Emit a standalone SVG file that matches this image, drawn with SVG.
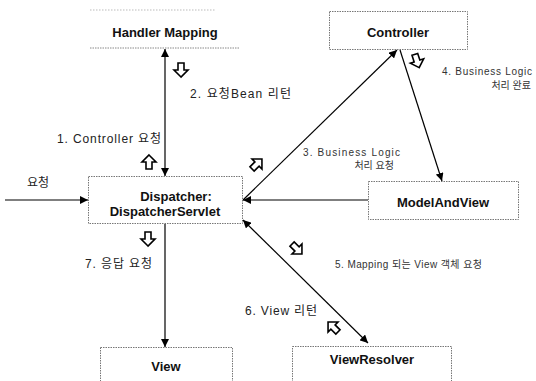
<svg xmlns="http://www.w3.org/2000/svg" width="536" height="381" viewBox="0 0 536 381">
<style>
.box{fill:#fff;stroke:#777;stroke-width:1;stroke-dasharray:1.5 1}
.faint{stroke:#bbb;stroke-width:1;stroke-dasharray:1.5 1.5}
.node{font-family:"Liberation Sans","Noto Sans CJK KR",sans-serif;font-weight:bold;font-size:13px;fill:#111;text-anchor:middle}
.lbl{font-family:"Liberation Sans","Noto Sans CJK KR",sans-serif;font-size:12px;fill:#222}
.sm{font-family:"Liberation Sans","Noto Sans CJK KR",sans-serif;font-size:10px;fill:#333}
.ln{stroke:#000;stroke-width:1.2;fill:none}
.ha{fill:#fff;stroke:#000;stroke-width:1.6;stroke-linejoin:miter}
</style>
<defs>
<marker id="ah" viewBox="0 0 10 10" refX="10" refY="5" markerWidth="8" markerHeight="8" markerUnits="userSpaceOnUse" orient="auto-start-reverse">
<path d="M0,0 L10,5 L0,10 Z" fill="#000"/>
</marker>
<path id="hol" class="ha" d="M0,-7 L7,0 L3,0 L3,7 L-3,7 L-3,0 L-7,0 Z"/>
</defs>

<g id="handler-mapping">
<line class="faint" x1="90" y1="10" x2="215" y2="10"/>
<line x1="90" y1="48" x2="240" y2="48" stroke="#888" stroke-width="1" stroke-dasharray="1.5 1"/>
<text class="node" x="165" y="37">Handler Mapping</text>
</g>

<g id="controller">
<rect class="box" x="329.5" y="11.5" width="138" height="38"/>
<text class="node" x="398" y="37">Controller</text>
</g>

<g id="dispatcher">
<rect class="box" x="88.5" y="176.5" width="154" height="47"/>
<text class="node" x="176" y="201" font-size="12.5">Dispatcher:</text>
<text class="node" x="165" y="216" font-size="12.5">DispatcherServlet</text>
</g>

<g id="modelandview">
<rect class="box" x="368.5" y="181.5" width="150" height="38"/>
<text class="node" x="443" y="207" font-size="12.5">ModelAndView</text>
</g>

<g id="view">
<rect class="box" x="100.5" y="347.5" width="132" height="40"/>
<text class="node" x="166" y="371">View</text>
</g>

<g id="viewresolver">
<rect class="box" x="292.5" y="346.5" width="159" height="40"/>
<text class="node" x="372" y="364">ViewResolver</text>
</g>

<g id="connectors">
<line class="ln" x1="165" y1="49" x2="165" y2="176" marker-start="url(#ah)" marker-end="url(#ah)"/>
<line class="ln" x1="5" y1="200" x2="88" y2="200" marker-end="url(#ah)"/>
<line class="ln" x1="243" y1="200" x2="397" y2="50" marker-end="url(#ah)"/>
<line class="ln" x1="400" y1="50" x2="442" y2="181" marker-end="url(#ah)"/>
<line class="ln" x1="368" y1="200" x2="243" y2="200" marker-end="url(#ah)"/>
<line class="ln" x1="243" y1="220" x2="368" y2="343" marker-start="url(#ah)" marker-end="url(#ah)"/>
<line class="ln" x1="165" y1="224" x2="165" y2="347" marker-end="url(#ah)"/>
</g>

<g id="flow-arrows">
<use href="#hol" transform="translate(181,70) rotate(180)"/>
<use href="#hol" transform="translate(149,162)"/>
<use href="#hol" transform="translate(148,239) rotate(180)"/>
<use href="#hol" transform="translate(257,164) rotate(45)"/>
<use href="#hol" transform="translate(417,61) rotate(162)"/>
<use href="#hol" transform="translate(297,249) rotate(135)"/>
<use href="#hol" transform="translate(333,327) rotate(-45)"/>
</g>

<g id="labels">
<text class="lbl" x="27" y="187">요청</text>
<text class="lbl" x="57" y="143" textLength="104" lengthAdjust="spacing">1. Controller 요청</text>
<text class="lbl" x="190" y="98" textLength="101" lengthAdjust="spacing">2. 요청Bean 리턴</text>
<text class="sm" x="303" y="156" textLength="97" lengthAdjust="spacing">3. Business Logic</text>
<text class="sm" x="394" y="169" text-anchor="end">처리 요청</text>
<text class="sm" x="442" y="75" textLength="90" lengthAdjust="spacing">4. Business Logic</text>
<text class="sm" x="531" y="89" text-anchor="end">처리 완료</text>
<text class="sm" x="335" y="268" textLength="147" lengthAdjust="spacing">5. Mapping 되는 View 객체 요청</text>
<text class="lbl" x="245" y="315" textLength="72" lengthAdjust="spacing">6. View 리턴</text>
<text class="lbl" x="85" y="268" textLength="67" lengthAdjust="spacing">7. 응답 요청</text>
</g>
</svg>
